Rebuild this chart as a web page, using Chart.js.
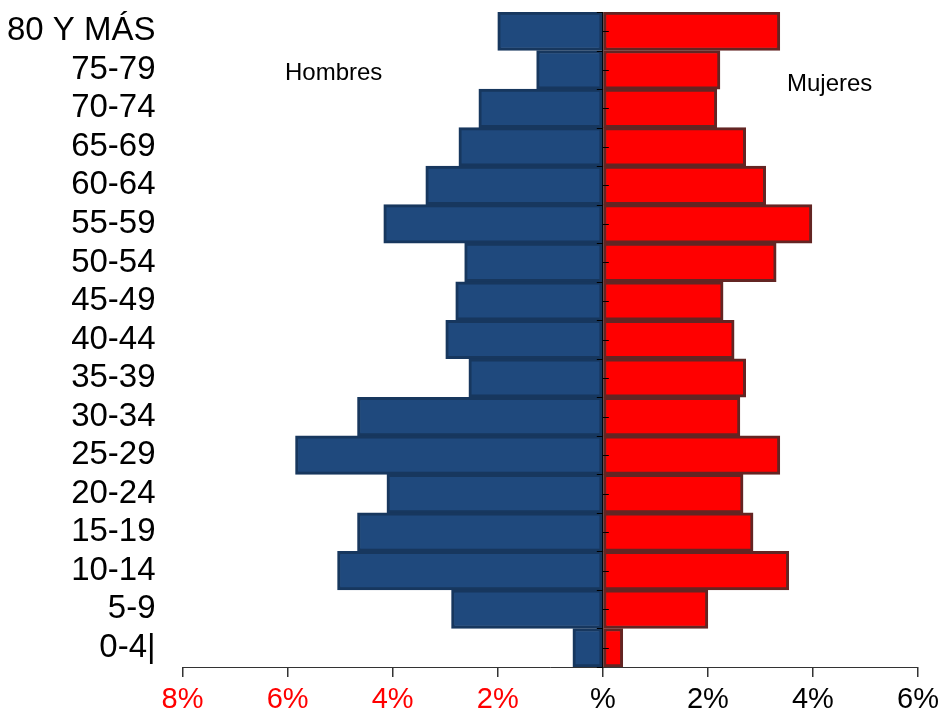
<!DOCTYPE html>
<html>
<head>
<meta charset="utf-8">
<script src="https://cdn.jsdelivr.net/npm/chart.js@4/dist/chart.umd.min.js"></script>
<style>
  html, body { margin: 0; padding: 0; background: #fff; }
  #wrap { width: 943px; height: 712px; }
</style>
</head>
<body>
<div id="wrap"><canvas id="pyramid" width="943" height="712"></canvas></div>
<script>
// Age groups, top to bottom
const ageGroups = ['80 Y MÁS', '75-79', '70-74', '65-69', '60-64', '55-59', '50-54', '45-49',
    '40-44', '35-39', '30-34', '25-29', '20-24', '15-19', '10-14', '5-9', '0-4|'];

// Percent of population
const hombres = [2.0, 1.26, 2.36, 2.74, 3.37, 4.17, 2.63, 2.8, 2.99, 2.55, 4.67, 5.85, 4.11, 4.67, 5.05, 2.88, 0.57];
const mujeres = [3.37, 2.23, 2.17, 2.72, 3.1, 3.98, 3.3, 2.29, 2.5, 2.72, 2.61, 3.37, 2.67, 2.86, 3.54, 2.0, 0.38];

const xTicks = [-8, -6, -4, -2, 0, 2, 4, 6];

// small ticks on the centre axis + side labels
const pyramidDecor = {
    id: 'pyramidDecor',
    afterDraw(chart) {
        const c = chart.ctx;
        const xs = chart.scales.x;
        const ys = chart.scales.y;
        const x0 = xs.getPixelForValue(0);
        const step = (ys.bottom - ys.top) / ageGroups.length;
        c.save();
        c.strokeStyle = '#000';
        c.lineWidth = 1;
        c.beginPath();
        for (let i = 0; i <= ageGroups.length; i++) {
            const yb = Math.round(ys.top + i * step) + 0.5;
            c.moveTo(x0 - 6, yb);
            c.lineTo(x0, yb);
        }
        for (let i = 0; i < ageGroups.length; i++) {
            const yc = Math.round(ys.getPixelForValue(i)) + 0.5;
            c.moveTo(x0, yc);
            c.lineTo(x0 + 6, yc);
        }
        c.stroke();
        c.fillStyle = '#000';
        c.font = '24px "Liberation Sans", Arial, sans-serif';
        c.textBaseline = 'middle';
        c.fillText('Hombres', 285, 73);
        c.fillText('Mujeres', 787, 84);
        c.restore();
    }
};

new Chart(document.getElementById('pyramid'), {
    type: 'bar',
    data: {
        labels: ageGroups,
        datasets: [{
            label: 'Hombres',
            data: hombres.map(v => -v),
            backgroundColor: '#1F497D',
            borderColor: '#17375E',
            borderWidth: 3,
            borderSkipped: false,
            barPercentage: 1,
            categoryPercentage: 1
        }, {
            label: 'Mujeres',
            data: mujeres,
            backgroundColor: '#FF0000',
            borderColor: '#632523',
            borderWidth: 3,
            borderSkipped: false,
            barPercentage: 1,
            categoryPercentage: 1
        }]
    },
    options: {
        indexAxis: 'y',
        responsive: false,
        animation: false,
        layout: { padding: { top: 12, right: 25, left: -12, bottom: -10 } },
        plugins: {
            legend: { display: false },
            tooltip: { enabled: false }
        },
        scales: {
            x: {
                stacked: true,
                min: -8,
                max: 6,
                afterBuildTicks: axis => { axis.ticks = xTicks.map(v => ({ value: v })); },
                afterFit: s => { s.paddingRight = 0; },
                grid: {
                    color: ctx => ctx.tick && ctx.tick.value === 0 ? '#000' : 'rgba(0,0,0,0)',
                    lineWidth: 1.5,
                    tickColor: '#333',
                    tickLength: 10,
                    drawOnChartArea: true
                },
                border: { display: true, color: '#333', width: 1 },
                ticks: {
                    padding: 8,
                    color: ctx => ctx.tick.value < 0 ? '#FF0000' : '#000',
                    font: { family: '"Liberation Sans", Arial, sans-serif', size: 29, lineHeight: 1 },
                    callback: v => v === 0 ? '%' : Math.abs(v) + '%'
                }
            },
            y: {
                stacked: true,
                afterFit: s => { s.paddingTop = 0; s.paddingBottom = 0; },
                grid: { display: false },
                border: { display: false },
                ticks: {
                    padding: 19,
                    color: '#000',
                    font: { family: '"Liberation Sans", Arial, sans-serif', size: 33, lineHeight: 1 }
                }
            }
        }
    },
    plugins: [pyramidDecor]
});
</script>
</body>
</html>
